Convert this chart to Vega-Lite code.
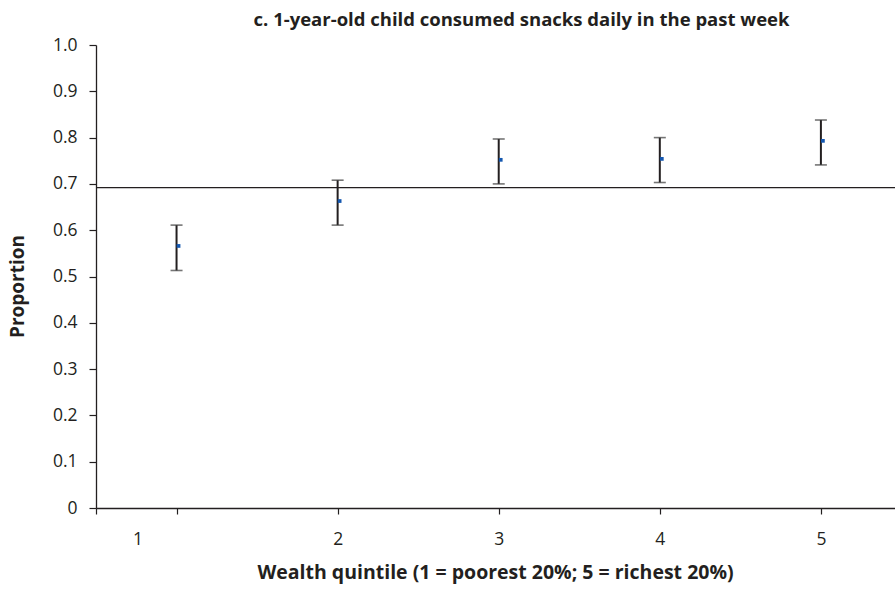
{
  "$schema": "https://vega.github.io/schema/vega-lite/v6.json",
  "width": 799,
  "height": 463,
  "autosize": {"type": "none"},
  "padding": {"left": 96, "top": 45, "right": 0, "bottom": 82},
  "background": "white",
  "config": {
    "view": {"stroke": null},
    "font": "Open Sans"
  },
  "title": {
    "text": "c. 1-year-old child consumed snacks daily in the past week",
    "font": "Open Sans",
    "fontSize": 18.5,
    "fontWeight": "bold",
    "color": "#231f20",
    "anchor": "middle",
    "frame": "group",
    "dx": 26,
    "offset": 7
  },
  "datasets": {
    "points": [
      {"quintile": 1, "proportion": 0.566, "lower": 0.513, "upper": 0.611},
      {"quintile": 2, "proportion": 0.663, "lower": 0.611, "upper": 0.708},
      {"quintile": 3, "proportion": 0.752, "lower": 0.700, "upper": 0.797},
      {"quintile": 4, "proportion": 0.754, "lower": 0.703, "upper": 0.800},
      {"quintile": 5, "proportion": 0.793, "lower": 0.741, "upper": 0.838}
    ],
    "reference": [{"overall": 0.692}]
  },
  "layer": [
    {
      "data": {"name": "reference"},
      "mark": {"type": "rule", "color": "#231f20", "strokeWidth": 1.3},
      "encoding": {
        "y": {"field": "overall", "type": "quantitative", "scale": {"domain": [0, 1]}}
      }
    },
    {
      "data": {"name": "points"},
      "mark": {"type": "rule", "color": "#231f20", "strokeWidth": 2},
      "encoding": {
        "x": {
          "field": "quintile",
          "type": "quantitative",
          "scale": {"domain": [0.5, 5.46], "nice": false, "zero": false},
          "axis": {
            "title": "Wealth quintile (1 = poorest 20%; 5 = richest 20%)",
            "titleFont": "Open Sans",
            "titleFontSize": 19.5,
            "titleFontWeight": "bold",
            "titleColor": "#231f20",
            "titleX": 399,
            "titleY": 70,
            "titleBaseline": "alphabetic",
            "titleAnchor": "middle",
            "titleAlign": "center",
            "values": [0.5, 1, 2, 3, 4, 5],
            "labelExpr": "datum.value == 0.5 ? '' : format(datum.value, 'd')",
            "labelOffset": {"condition": {"test": "datum.value == 1", "value": -39}, "value": 0},
            "labelFont": "Open Sans",
            "labelFontSize": 17.5,
            "labelColor": "#231f20",
            "labelPadding": 16,
            "labelFlush": false,
            "labelOverlap": false,
            "grid": false,
            "domainColor": "#231f20",
            "domainWidth": 1.3,
            "tickColor": "#231f20",
            "tickSize": 6,
            "tickWidth": 1.2
          }
        },
        "y": {
          "field": "lower",
          "type": "quantitative",
          "scale": {"domain": [0, 1], "nice": false},
          "axis": {
            "title": "Proportion",
            "titleFont": "Open Sans",
            "titleFontSize": 19,
            "titleFontWeight": "bold",
            "titleColor": "#231f20",
            "titleX": -73,
            "titleY": 241,
            "titleAngle": -90,
            "titleAlign": "center",
            "titleBaseline": "alphabetic",
            "values": [0, 0.1, 0.2, 0.3, 0.4, 0.5, 0.6, 0.7, 0.8, 0.9, 1],
            "labelExpr": "datum.value == 0 ? '0' : format(datum.value, '.1f')",
            "labelFont": "Open Sans",
            "labelFontSize": 17.5,
            "labelColor": "#231f20",
            "labelPadding": 12,
            "grid": false,
            "domainColor": "#231f20",
            "domainWidth": 1.3,
            "tickColor": "#231f20",
            "tickSize": 7,
            "tickWidth": 1.2
          }
        },
        "y2": {"field": "upper"}
      }
    },
    {
      "data": {"name": "points"},
      "mark": {"type": "tick", "orient": "horizontal", "color": "#3a3a3a", "size": 12, "thickness": 1.6},
      "encoding": {
        "x": {"field": "quintile", "type": "quantitative"},
        "y": {"field": "upper", "type": "quantitative"}
      }
    },
    {
      "data": {"name": "points"},
      "mark": {"type": "tick", "orient": "horizontal", "color": "#3a3a3a", "size": 12, "thickness": 1.6},
      "encoding": {
        "x": {"field": "quintile", "type": "quantitative"},
        "y": {"field": "lower", "type": "quantitative"}
      }
    },
    {
      "data": {"name": "points"},
      "mark": {"type": "square", "color": "#1558b0", "filled": true, "opacity": 1, "size": 14, "xOffset": 2},
      "encoding": {
        "x": {"field": "quintile", "type": "quantitative"},
        "y": {"field": "proportion", "type": "quantitative"}
      }
    }
  ]
}
